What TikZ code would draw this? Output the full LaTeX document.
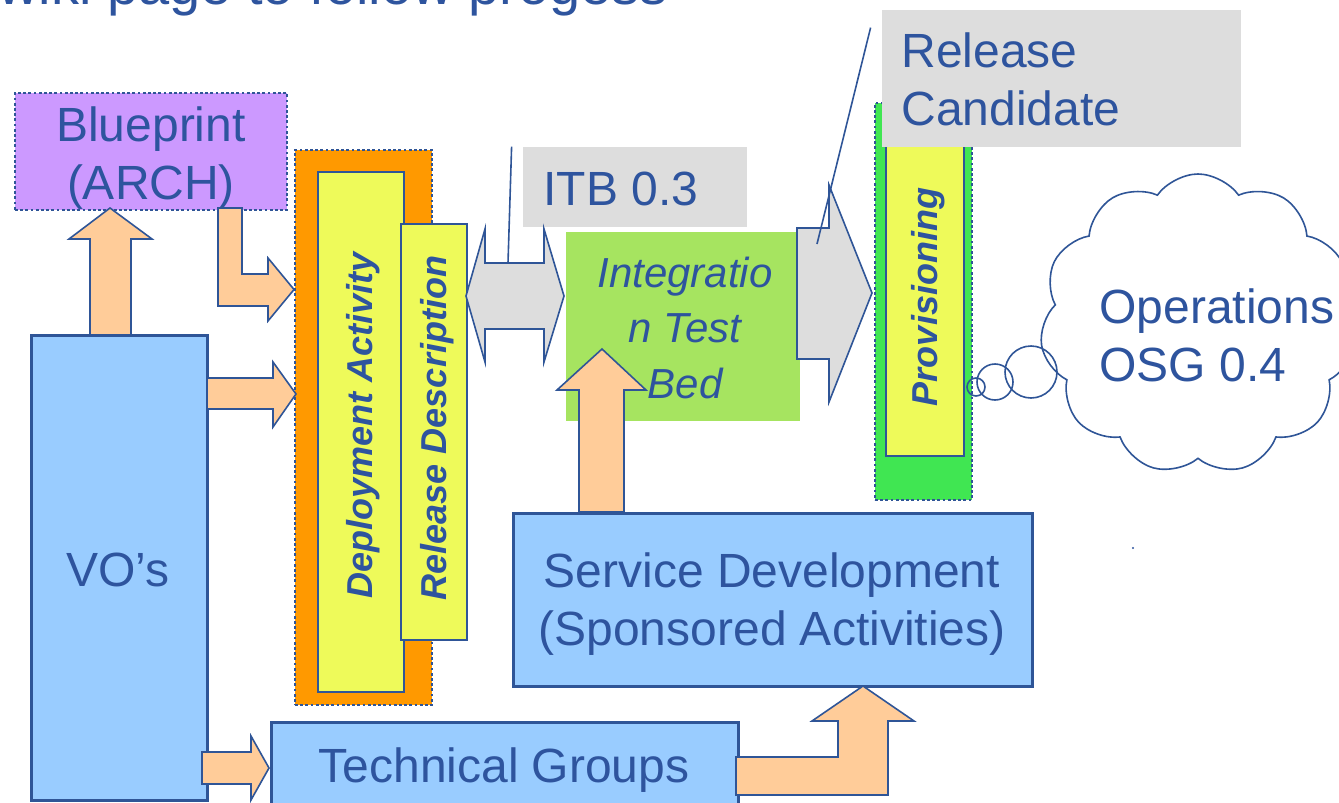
\documentclass[tikz,border=0pt]{standalone}
\usepackage{fontspec}
\setmainfont{Liberation Sans}
\usetikzlibrary{shapes.symbols}
\definecolor{tblue}{RGB}{46,84,158}
\definecolor{bord}{RGB}{47,85,151}
\definecolor{lav}{RGB}{204,153,255}
\definecolor{orng}{RGB}{255,153,0}
\definecolor{yel}{RGB}{238,250,90}
\definecolor{lblue}{RGB}{153,204,255}
\definecolor{peach}{RGB}{255,204,153}
\definecolor{lgray}{RGB}{221,221,221}
\definecolor{itbg}{RGB}{166,228,96}
\definecolor{provg}{RGB}{64,230,82}
\tikzset{
  bluebox/.style={draw=bord, line width=1.5pt, fill=lblue, inner sep=0},
  dotbox/.style={draw=bord, line width=1.4pt, dash pattern=on 1.4pt off 1.2pt, inner sep=0},
  ybox/.style={draw=bord, line width=1pt, fill=yel, inner sep=0},
  plain/.style={inner sep=0, draw=none},
  peacharrow/.style={draw=bord, line width=0.8pt, fill=peach, line join=miter},
  greyarrow/.style={draw=bord, line width=0.8pt, fill=lgray, line join=miter},
  txt/.style={text=tblue, font=\fontsize{24}{29}\selectfont, inner sep=0},
  rtxt/.style={text=tblue, font=\fontsize{18}{22}\selectfont\bfseries\itshape, inner sep=0, rotate=90},
  callout/.style={draw=bord, line width=0.8pt},
  bubble/.style={circle, draw=bord, line width=0.8pt, inner sep=0},
}
\begin{document}
\begin{tikzpicture}[x=0.5pt,y=-0.5pt]
\useasboundingbox (0,0) rectangle (1339,803);

% title remnant
\node[anchor=base west, inner sep=0, text=tblue, font=\fontsize{28}{34}\selectfont] (title) at (-2,4) {wiki page to follow progess};

% boxes
\node[dotbox, fill=lav, minimum width=136pt, minimum height=58.5pt] (bp) at (151,151.5) {};
\node[txt, align=center] (bpt) at (151,158.5) {Blueprint\\(ARCH)};

\node[dotbox, fill=orng, minimum width=68.5pt, minimum height=277.5pt] (dep) at (363.5,427.5) {};
\node[ybox, minimum width=43pt, minimum height=260pt] (da) at (361,432) {};
\node[rtxt] (dat) at (363,425) {Deployment Activity};
\node[ybox, minimum width=33pt, minimum height=208pt] (rd) at (434,432) {};
\node[rtxt] (rdt) at (437,428) {Release Description};

\node[bluebox, minimum width=88pt, minimum height=232.5pt] (vo) at (119,567.5) {};
\node[txt, anchor=base] (vot) at (118,586) {VO’s};

\node[bluebox, minimum width=233.5pt, minimum height=46.5pt] (tg) at (504.5,768.5) {};
\node[txt, anchor=base] (tgt) at (504,782) {Technical Groups};

\node[bluebox, minimum width=259.5pt, minimum height=86.5pt] (sd) at (772.5,599.5) {};
\node[txt, align=center] (sdt) at (772,604) {Service Development\\(Sponsored Activities)};

\node[plain, fill=itbg, minimum width=117pt, minimum height=94.5pt] (itb) at (683,326.5) {};
\node[txt, align=center, font=\fontsize{21}{27.75}\selectfont\itshape] (itbt) at (685,327.5) {Integratio\\n Test\\Bed};

\node[plain, fill=lgray, minimum width=112pt, minimum height=40pt] (itbl) at (635,187) {};
\node[txt, anchor=base west] (itblt) at (543,205) {ITB 0.3};

\node[dotbox, fill=provg, minimum width=48.5pt, minimum height=198.5pt] (prov) at (923.5,301.5) {};
\node[ybox, minimum width=39pt, minimum height=170.5pt] (provi) at (925,285.5) {};
\node[rtxt] (provt) at (928,297) {Provisioning};

\node[plain, fill=lgray, minimum width=179.5pt, minimum height=68.5pt] (rc) at (1061.5,78.5) {};
\node[txt, align=left, anchor=west] (rct) at (901,79.5) {Release\\Candidate};

% cloud and bubbles
\node[cloud, cloud puffs=11, cloud puff arc=110, cloud ignores aspect, draw=bord, line width=0.8pt, fill=white, minimum width=158pt, minimum height=150pt] (cl) at (1198,324) {};
\node[txt, align=left, anchor=west] (clt) at (1099,335.5) {Operations\\OSG 0.4};
\node[bubble, minimum size=9pt] (b1) at (976,387) {};
\node[bubble, minimum size=18pt] (b2) at (995,382) {};
\node[bubble, minimum size=26pt] (b3) at (1031,372) {};
\fill[tblue] (1133,548) circle (0.6pt);

% block arrows
\draw[peacharrow] (90,335) -- (90,239) -- (69,239) -- (110,208) -- (152,239) -- (131,239) -- (131,335) -- cycle;
\draw[peacharrow] (218,208) -- (242,208) -- (242,274) -- (268,274) -- (268,258) -- (294,289.5) -- (268,321) -- (268,306) -- (218,306) -- cycle;
\draw[peacharrow] (207,378) -- (273,378) -- (273,362) -- (296,394) -- (273,427) -- (273,409) -- (207,409) -- cycle;
\draw[peacharrow] (202,752) -- (251,752) -- (251,736) -- (269,768) -- (251,800) -- (251,784) -- (202,784) -- cycle;
\draw[peacharrow] (736,757) -- (838,757) -- (838,721) -- (812,721) -- (863,686) -- (914,721) -- (888,721) -- (888,795) -- (736,795) -- cycle;
\draw[peacharrow] (579,512) -- (579,390) -- (557,390) -- (602,349) -- (646,390) -- (624,390) -- (624,512) -- cycle;
\draw[greyarrow] (466,296) -- (485,229) -- (485,263) -- (544,263) -- (544,229) -- (564,296) -- (544,362) -- (544,329) -- (485,329) -- (485,362) -- cycle;
\draw[greyarrow] (797,228) -- (829,228) -- (829,185) -- (872,293) -- (829,402) -- (829,359) -- (797,359) -- cycle;

% callout lines
\coordinate (c1) at (508,263);
\coordinate (c2) at (817,244);
\draw[callout] ([xshift=-5.5pt]itbl.north west) -- (c1);
\draw[callout] ([xshift=-5.5pt,yshift=-9pt]rc.north west) -- (c2);
\end{tikzpicture}
\end{document}
